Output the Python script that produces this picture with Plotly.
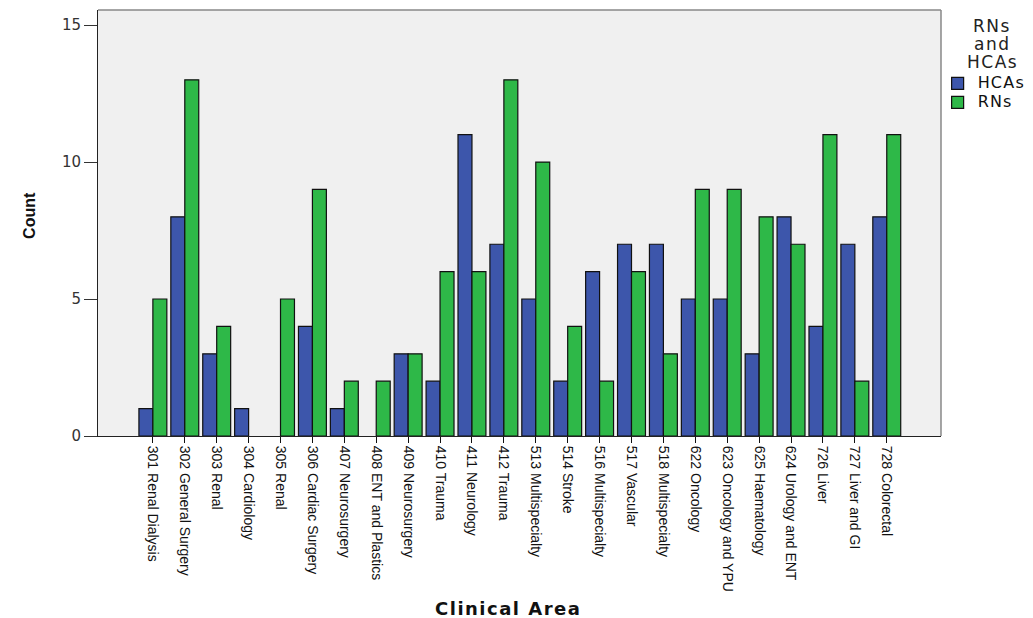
import plotly.graph_objects as go

categories = ["301 Renal Dialysis", "302 General Surgery", "303 Renal", "304 Cardiology",
              "305 Renal", "306 Cardiac Surgery", "407 Neurosurgery", "408 ENT and Plastics",
              "409 Neurosurgery", "410 Trauma", "411 Neurology", "412 Trauma",
              "513 Multispecialty", "514 Stroke", "516 Multispecialty", "517 Vascular",
              "518 Multispecialty", "622 Oncology", "623 Oncology and YPU", "625 Haematology",
              "624 Urology and ENT", "726 Liver", "727 Liver and GI", "728 Colorectal"]
hcas = [1, 8, 3, 1, 0, 4, 1, 0, 3, 2, 11, 7, 5, 2, 6, 7, 7, 5, 5, 3, 8, 4, 7, 8]
rns = [5, 13, 4, 0, 5, 9, 2, 2, 3, 6, 6, 13, 10, 4, 2, 6, 3, 9, 9, 8, 7, 11, 2, 11]
y_ticks = [0, 5, 10, 15]
series_names = ["HCAs", "RNs"]
legend_title_lines = ["RNs", "and", "HCAs"]

regular = "Liberation Sans, Arial, sans-serif"
wide = "DejaVu Sans, sans-serif"


def outline_widths(vals):
    return [1.2 if v > 0 else 0 for v in vals]


def spaced(txt, px, size=None):
    style = f"letter-spacing:{px}px"
    if size:
        style += f";font-size:{size}px"
    return f'<span style="{style}">{txt}</span>'


fig = go.Figure()
fig.add_trace(go.Bar(x=categories, y=hcas, name=spaced(series_names[0], 1.2, 16),
                     marker=dict(color="#3D56AB",
                                 line=dict(color="#111111", width=outline_widths(hcas)))))
fig.add_trace(go.Bar(x=categories, y=rns, name=spaced(series_names[1], 1.2, 16),
                     marker=dict(color="#2EB848",
                                 line=dict(color="#111111", width=outline_widths(rns)))))

fig.update_layout(
    width=1025, height=610,
    margin=dict(l=90, r=92, t=2, b=182),
    paper_bgcolor="white", plot_bgcolor="#F0F0F0",
    barmode="group", bargap=0.125, bargroupgap=0,
    showlegend=True,
    legend=dict(
        font=dict(family=wide, size=12, color="#111111"),
        x=0.996, xanchor="left", y=0.862, yanchor="top",
        bgcolor="rgba(0,0,0,0)", itemwidth=30, tracegroupgap=0,
    ),
    xaxis=dict(
        range=[-1.72, 24.7], tickangle=90,
        tickfont=dict(family=regular, size=14, color="#111111"),
        ticks="outside", ticklen=6, tickcolor="#111111", tickwidth=1,
        showline=True, linecolor="#222222", linewidth=1,
        showgrid=False, zeroline=False, automargin=False,
    ),
    yaxis=dict(
        range=[0, 15.55], tickvals=y_ticks,
        tickfont=dict(family=wide, size=15, color="#333333"),
        ticks="outside", ticklen=13, tickcolor="#333333", tickwidth=1,
        showline=True, linecolor="#222222", linewidth=1,
        showgrid=False, zeroline=False, automargin=False,
    ),
    font=dict(family=regular),
)

# frame lines on top and right of the plotting area
fig.add_shape(type="line", xref="paper", yref="paper", x0=0, x1=1, y0=1, y1=1,
              line=dict(color="#888888", width=1.5))
fig.add_shape(type="line", xref="paper", yref="paper", x0=1, x1=1, y0=0, y1=1,
              line=dict(color="#888888", width=1.5))

# legend title (three centred lines)
for line_txt, ypos in zip(legend_title_lines, [0.9624, 0.920, 0.878]):
    fig.add_annotation(text=spaced(line_txt, 1.5), xref="paper", yref="paper",
                       x=1.0605, y=ypos, xanchor="center", yanchor="middle",
                       showarrow=False,
                       font=dict(family=wide, size=17, color="#222222"))

# axis titles
fig.add_annotation(text="<b>Count</b>", xref="paper", yref="paper",
                   x=-0.0807, y=0.519, xanchor="center", yanchor="middle",
                   textangle=-90, showarrow=False,
                   font=dict(family=regular, size=16, color="#111111"))
fig.add_annotation(text="<b>" + spaced("Clinical Area", 1.5) + "</b>",
                   xref="paper", yref="paper",
                   x=0.486, y=-0.404, xanchor="center", yanchor="middle",
                   showarrow=False,
                   font=dict(family=wide, size=18, color="#111111"))

fig.write_html("out.html")
